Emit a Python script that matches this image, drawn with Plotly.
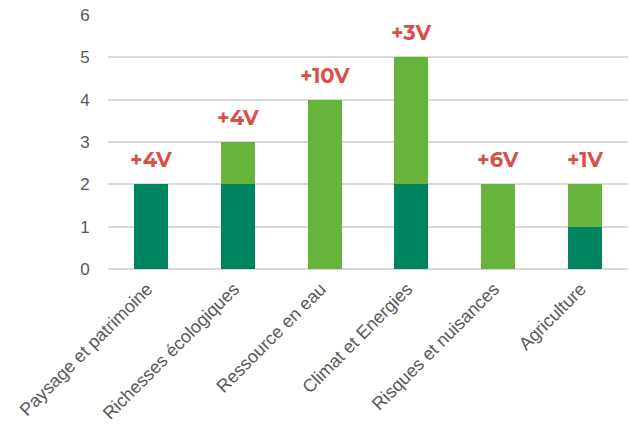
import plotly.graph_objects as go

categories = ["Paysage et patrimoine", "Richesses écologiques", "Ressource en eau",
              "Climat et Energies", "Risques et nuisances", "Agriculture"]
dark_values = [2, 2, 0, 2, 0, 1]
light_values = [0, 1, 4, 3, 2, 1]
top_labels = ["+4V", "+4V", "+10V", "+3V", "+6V", "+1V"]
y_ticks = [0, 1, 2, 3, 4, 5, 6]

DARK = "#00845F"
LIGHT = "#66B43C"
RED = "#D9504A"
GREY = "#595959"

fig = go.Figure()
fig.add_trace(go.Bar(x=categories, y=dark_values, marker=dict(color=DARK, line=dict(width=0)),
                     hoverinfo="skip"))
fig.add_trace(go.Bar(x=categories, y=light_values, marker=dict(color=LIGHT, line=dict(width=0)),
                     hoverinfo="skip"))

totals = [d + l for d, l in zip(dark_values, light_values)]
for c, t, lab in zip(categories, totals, top_labels):
    fig.add_annotation(x=c, y=t, text=lab, showarrow=False, yanchor="bottom",
                       yshift=10, font=dict(family="Montserrat, Open Sans, sans-serif",
                                            size=21, color=RED, weight="bold"))

fig.update_layout(
    barmode="stack",
    bargap=0.61,
    showlegend=False,
    width=629, height=430,
    margin=dict(l=108, r=1, t=15, b=161),
    paper_bgcolor="white", plot_bgcolor="white",
    font=dict(family="Liberation Sans, Arial, sans-serif", color=GREY),
)
fig.update_yaxes(range=[0, 6], tickvals=y_ticks, showgrid=True, gridcolor="#D9D9D9",
                 gridwidth=1.5, zeroline=True, zerolinecolor="#D9D9D9", zerolinewidth=1.5,
                 ticks="outside", ticklen=14, tickcolor="rgba(0,0,0,0)",
                 tickfont=dict(size=17, color=GREY), showline=False)
fig.update_xaxes(tickangle=-45, tickfont=dict(size=18, color=GREY), showline=False,
                 ticks="", automargin=False, ticklabelstandoff=5, ticklabelshift=-4)

fig.write_html("out.html")
